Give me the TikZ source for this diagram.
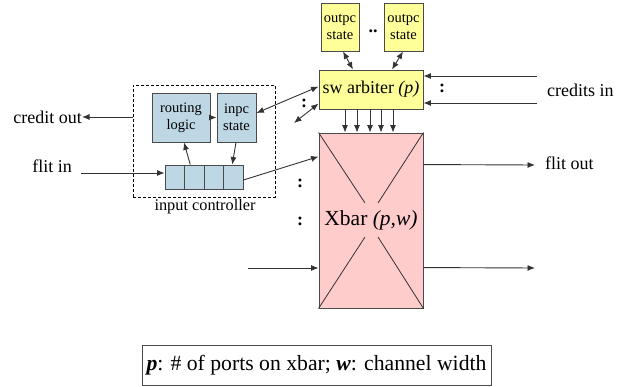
\documentclass[tikz,border=0pt]{standalone}
\usepackage{fontspec}
\setmainfont{Liberation Serif}
\usetikzlibrary{arrows.meta}
\usetikzlibrary{positioning}
\definecolor{icblue}{HTML}{BDD7E4}
\definecolor{arbyellow}{HTML}{FFFF99}
\definecolor{xbarpink}{HTML}{FFCCCC}
\definecolor{boxgray}{HTML}{4A4A4A}
\definecolor{linegray}{HTML}{333333}
\tikzset{
	>={Latex[length=7.5pt,width=6pt]},
	unit/.style={
		rectangle,
		draw=boxgray, line width=0.9pt,
		inner sep=0pt,
		align=center,
		font=\fontsize{14.5}{17}\selectfont},
	icunit/.style={unit, fill=icblue},
	arbunit/.style={unit, fill=arbyellow},
	icframe/.style={draw=black, line width=0.7pt, dash pattern=on 3pt off 2pt},
	link/.style={draw=linegray, line width=0.9pt, ->},
	duplex/.style={link, <->},
	xline/.style={draw=linegray, line width=0.8pt},
	lbl/.style={inner sep=0pt, font=\fontsize{18}{20}\selectfont},
	vdots/.style={inner sep=0pt, font=\bfseries\fontsize{18}{20}\selectfont},
}
\begin{document}
\begin{tikzpicture}[x=1pt, y=-1pt]
	\useasboundingbox (0,0) rectangle (628,387);
	% input controller
	\node[icframe, minimum width=142pt, minimum height=112pt] (ic) at (204,141) {};
	\node[lbl, font=\fontsize{16.3}{18}\selectfont] (iclbl) at (205,207) {input controller};
	\node[icunit, minimum width=58pt, minimum height=49pt] (route) at (181,117.5) {routing\\logic};
	\node[icunit, minimum width=39pt, minimum height=49pt] (inpc) at (236.5,117.5) {inpc\\state};
	\foreach \i in {1,...,4}
		\node[icunit, minimum width=19.5pt, minimum height=24pt] (buf\i) at ({165+19.5*(\i-0.5)},177) {};

	% arbiter and output state
	\node[arbunit, minimum width=38pt, minimum height=48pt] (outa) at (340,27) {outpc\\state};
	\node[arbunit, minimum width=39pt, minimum height=48pt] (outb) at (403.5,27) {outpc\\state};
	\node[vdots] (odots) at (373,31) {..};
	\node[arbunit, minimum width=104pt, minimum height=39pt, font=\fontsize{18}{20}\selectfont] (arb) at (371,89.5) {sw arbiter \textit{(p)}};

	% crossbar
	\node[unit, fill=xbarpink, minimum width=104pt, minimum height=175pt] (xbar) at (371,220.5) {};
	\draw[xline] (xbar.north west) -- (365,203);
	\draw[xline] (xbar.north east) -- (378,203);
	\draw[xline] (xbar.south west) -- (365,237);
	\draw[xline] (xbar.south east) -- (378,237);
	\node[inner sep=0pt, font=\fontsize{21.5}{24}\selectfont] (xlbl) at (371,220) {Xbar \textit{(p,w)}};

	% outside labels
	\node[lbl, anchor=east] (crout) at (82,117) {credit out};
	\node[lbl, anchor=east] (flitin) at (72,166) {flit in};
	\node[lbl, anchor=west] (crin) at (547,90) {credits in};
	\node[lbl, anchor=west] (flitout) at (545,163) {flit out};
	\node[vdots] (cdots) at (442,88) {:};
	\node[vdots] (adots) at (304,103) {:};
	\node[vdots] (xdotsa) at (300,183) {:};
	\node[vdots] (xdotsb) at (300,221) {:};

	\coordinate (fin) at (81,173);
	\coordinate (cina) at (537,76);
	\coordinate (cinb) at (537,103);
	\coordinate (fout) at (535,165);
	\coordinate (xouta) at (535,268);
	\coordinate (xin) at (248,268);
	\coordinate (swb) at (294,123);

	% connectors
	\draw[link] (ic.west |- crout) -- (crout.east);
	\draw[link] (fin) -- ([yshift=4pt]buf1.west);
	\draw[link] (route.east) -- (inpc.west);
	\draw[link] ([xshift=-4pt]buf2.north) -- ([xshift=3pt]route.south);
	\draw[link] ([xshift=-0.5pt]inpc.south) -- ([xshift=-1pt]buf4.north);
	\draw[link] ([yshift=-3pt]buf4.east) -- ([yshift=-24pt]xbar.north west);
	\draw[duplex] ([yshift=4.5pt]inpc.east) -- ([yshift=-17pt]arb.north west);
	\draw[duplex] (swb) -- ([yshift=-34pt]arb.north west);
	\draw[duplex] ([xshift=3pt]outa.south) -- ([xshift=-18pt]arb.north);
	\draw[duplex] ([xshift=-0.5pt]outb.south) -- ([xshift=21pt]arb.north);
	\foreach \dx in {-26,-14,-1,10,22}
		\draw[link] ([xshift=\dx pt]arb.south) -- ([xshift=\dx pt]xbar.north);
	\draw[link] (cina) -- (cina -| arb.east);
	\draw[link] (cinb) -- (cinb -| arb.east);
	\draw[link] ([yshift=-32pt]xbar.north east) -- (fout);
	\draw[link] ([yshift=-135pt]xbar.north east) -- (xouta);
	\draw[link] (xin) -- (xin -| xbar.west);

	% key
	\node[draw=boxgray, line width=0.9pt, minimum width=349pt, minimum height=40pt, inner sep=0pt, font=\fontsize{21.7}{23}\selectfont] (key) at (316.5,365)
		{\textbf{\textit{p}}: \# of ports on xbar; \textbf{\textit{w}}: channel width};
\end{tikzpicture}
\end{document}
